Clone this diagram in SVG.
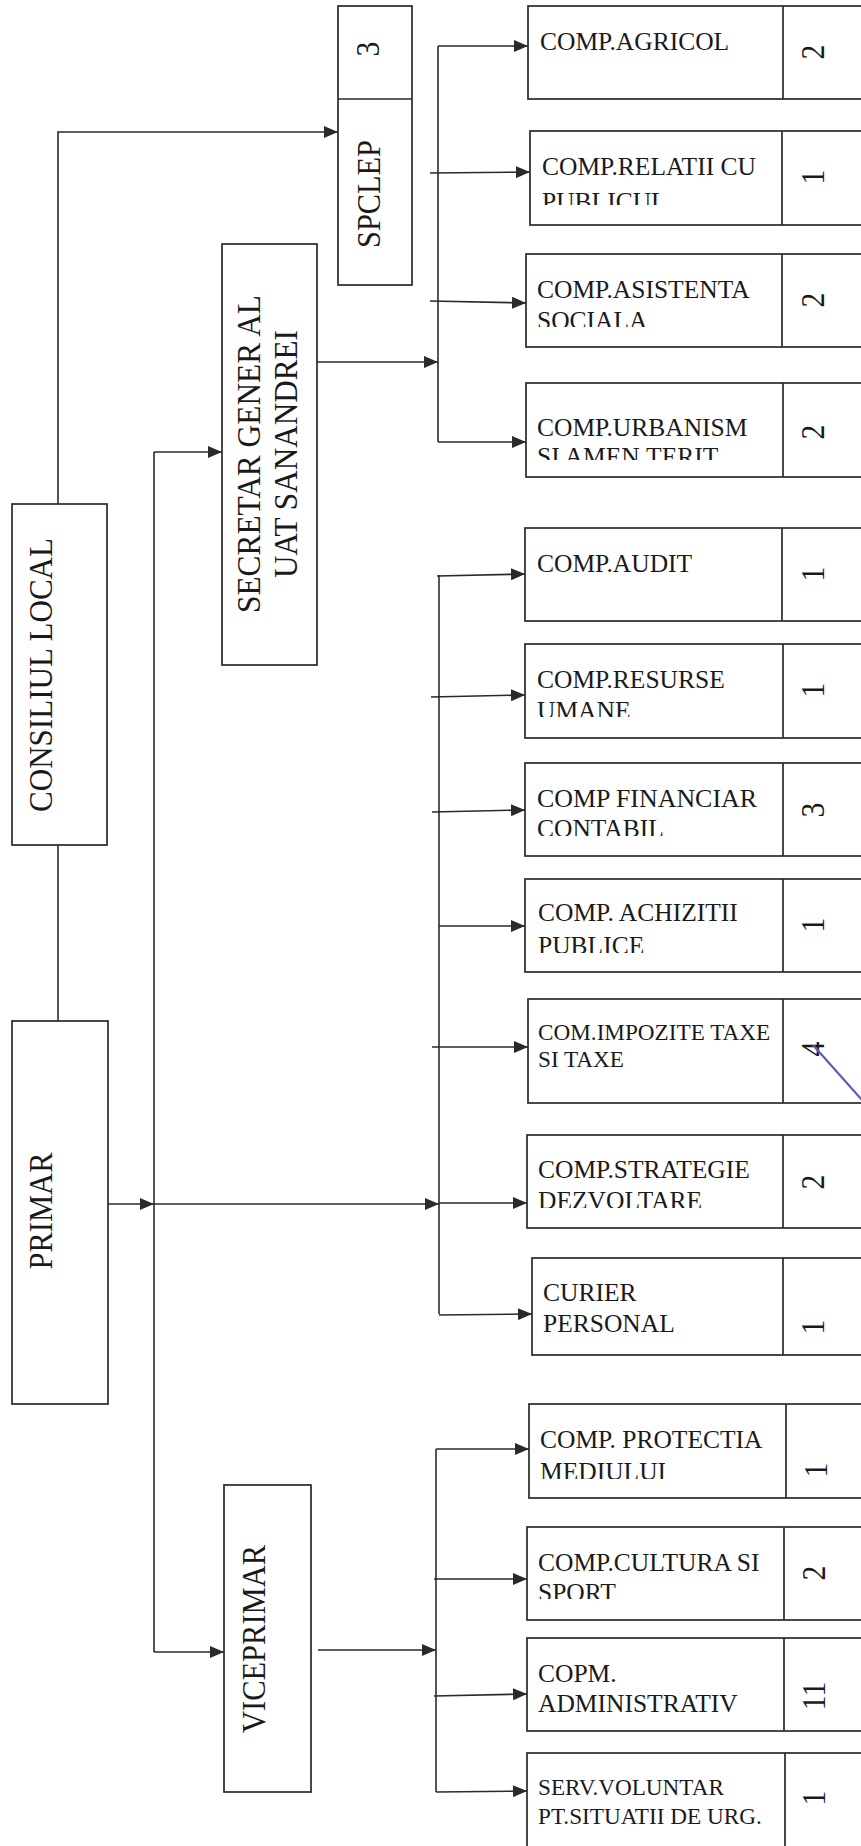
<svg xmlns="http://www.w3.org/2000/svg" width="861" height="1846" viewBox="0 0 861 1846">
<style>
.box{fill:#fff;stroke:#2a2a2a;stroke-width:1.7}
.div{stroke:#2a2a2a;stroke-width:1.7}
.ln{stroke:#2a2a2a;stroke-width:1.6;fill:none}
.arr{stroke:#2a2a2a;stroke-width:1.6;fill:none;marker-end:url(#ah)}
.t{font-family:"Liberation Serif","Times New Roman",serif;font-size:25.5px;fill:#1a1a1a}
.ts{font-family:"Liberation Serif","Times New Roman",serif;font-size:23.2px;fill:#1a1a1a}
.big{font-family:"Liberation Serif","Times New Roman",serif;font-size:33px;fill:#1a1a1a;text-anchor:middle}
.num{font-family:"Liberation Serif","Times New Roman",serif;font-size:33px;fill:#1a1a1a;text-anchor:middle}
</style>
<defs>
<marker id="ah" markerUnits="userSpaceOnUse" markerWidth="15" markerHeight="12" refX="14" refY="6" orient="auto"><path d="M0,0 L14,6 L0,12 z" fill="#2a2a2a"/></marker>
<clipPath id="c-rel"><rect x="530" y="131" width="250" height="74"/></clipPath>
<clipPath id="c-asi"><rect x="526" y="254" width="250" height="73"/></clipPath>
<clipPath id="c-urb"><rect x="526" y="383" width="250" height="77"/></clipPath>
<clipPath id="c-res"><rect x="525" y="644" width="250" height="73"/></clipPath>
<clipPath id="c-fin"><rect x="525" y="763" width="250" height="73"/></clipPath>
<clipPath id="c-ach"><rect x="525" y="879" width="250" height="74"/></clipPath>
<clipPath id="c-str"><rect x="527" y="1135" width="250" height="73"/></clipPath>
<clipPath id="c-pro"><rect x="529" y="1404" width="250" height="75"/></clipPath>
<clipPath id="c-cul"><rect x="527" y="1527" width="250" height="72"/></clipPath>
<clipPath id="c-adm"><rect x="527" y="1638" width="250" height="74"/></clipPath>
</defs>
<rect width="861" height="1846" fill="#fff"/>

<g id="connectors">
<polyline class="ln" points="58,504 58,132 59,132"/>
<line class="arr" x1="58" y1="132" x2="338" y2="132"/>
<line class="ln" x1="58" y1="845" x2="58" y2="1021"/>
<line class="arr" x1="108" y1="1204" x2="154" y2="1204"/>
<line class="arr" x1="154" y1="1204" x2="439" y2="1204"/>
<line class="ln" x1="154" y1="452" x2="154" y2="1652"/>
<line class="arr" x1="154" y1="452" x2="222" y2="452"/>
<line class="arr" x1="154" y1="1652" x2="224" y2="1652"/>
<line class="arr" x1="317" y1="362" x2="438" y2="362"/>
<line class="arr" x1="318" y1="1650" x2="436" y2="1650"/>
<line class="ln" x1="438" y1="46" x2="438" y2="442"/>
<line class="arr" x1="438" y1="46" x2="528" y2="46"/>
<line class="arr" x1="430" y1="173" x2="530" y2="172"/>
<line class="arr" x1="430" y1="301" x2="526" y2="303"/>
<line class="arr" x1="438" y1="442" x2="526" y2="442"/>
<line class="ln" x1="439" y1="575" x2="439" y2="1314"/>
<line class="arr" x1="437" y1="576" x2="525" y2="574"/>
<line class="arr" x1="431" y1="697" x2="525" y2="695"/>
<line class="arr" x1="432" y1="812" x2="525" y2="810"/>
<line class="arr" x1="439" y1="926" x2="525" y2="926"/>
<line class="arr" x1="432" y1="1047" x2="528" y2="1047"/>
<line class="arr" x1="439" y1="1203" x2="527" y2="1203"/>
<line class="arr" x1="439" y1="1315" x2="532" y2="1314"/>
<line class="ln" x1="436" y1="1449" x2="436" y2="1792"/>
<line class="arr" x1="436" y1="1449" x2="529" y2="1449"/>
<line class="arr" x1="434" y1="1579" x2="527" y2="1579"/>
<line class="arr" x1="434" y1="1696" x2="527" y2="1694"/>
<line class="arr" x1="436" y1="1792" x2="527" y2="1791"/>
</g>

<g id="consiliul-local">
<rect class="box" x="12" y="504" width="95" height="341"/>
<text class="big" transform="translate(52,675) rotate(-90)" textLength="274" lengthAdjust="spacingAndGlyphs">CONSILIUL LOCAL</text>
</g>
<g id="primar">
<rect class="box" x="12" y="1021" width="96" height="383"/>
<text class="big" transform="translate(52,1211) rotate(-90)" textLength="117" lengthAdjust="spacingAndGlyphs">PRIMAR</text>
</g>
<g id="spclep">
<rect class="box" x="338" y="6" width="74" height="279"/>
<line class="div" x1="338" y1="99" x2="412" y2="99"/>
<text class="num" transform="translate(379,49) rotate(-90) scale(0.9,1)">3</text>
<text class="big" transform="translate(380,194) rotate(-90)" textLength="108" lengthAdjust="spacingAndGlyphs">SPCLEP</text>
</g>
<g id="secretar">
<rect class="box" x="222" y="244" width="95" height="421"/>
<text class="big" transform="translate(260,454) rotate(-90)" textLength="318" lengthAdjust="spacingAndGlyphs">SECRETAR GENER AL</text>
<text class="big" transform="translate(297,454) rotate(-90)" textLength="248" lengthAdjust="spacingAndGlyphs">UAT SANANDREI</text>
</g>
<g id="viceprimar">
<rect class="box" x="224" y="1485" width="87" height="307"/>
<text class="big" transform="translate(265,1639) rotate(-90)" textLength="188" lengthAdjust="spacingAndGlyphs">VICEPRIMAR</text>
</g>

<g id="comp-agricol">
<rect class="box" x="528" y="6" width="360" height="93"/>
<line class="div" x1="783" y1="6" x2="783" y2="99"/>
<text class="t" x="540" y="50">COMP.AGRICOL</text>
<text class="num" transform="translate(824,52) rotate(-90) scale(0.9,1)">2</text>
</g>
<g id="comp-relatii">
<rect class="box" x="530" y="131" width="360" height="94"/>
<line class="div" x1="782" y1="131" x2="782" y2="225"/>
<g clip-path="url(#c-rel)"><text class="t" x="542" y="175">COMP.RELATII CU</text><text class="t" x="542" y="210">PUBLICUL</text></g>
<text class="num" transform="translate(824,177) rotate(-90) scale(0.9,1)">1</text>
</g>
<g id="comp-asistenta">
<rect class="box" x="526" y="254" width="360" height="93"/>
<line class="div" x1="782" y1="254" x2="782" y2="347" stroke-width="2.4"/>
<text class="t" x="537" y="298">COMP.ASISTENTA</text>
<g clip-path="url(#c-asi)"><text class="t" x="537" y="329">SOCIALA</text></g>
<text class="num" transform="translate(824,300) rotate(-90) scale(0.9,1)">2</text>
</g>
<g id="comp-urbanism">
<rect class="box" x="526" y="383" width="360" height="94"/>
<line class="div" x1="783" y1="383" x2="783" y2="477"/>
<text class="t" x="537" y="436">COMP.URBANISM</text>
<g clip-path="url(#c-urb)"><text class="t" x="537" y="465">SI AMEN.TERIT</text></g>
<text class="num" transform="translate(824,432) rotate(-90) scale(0.9,1)">2</text>
</g>
<g id="comp-audit">
<rect class="box" x="525" y="528" width="360" height="93"/>
<line class="div" x1="782" y1="528" x2="782" y2="621"/>
<text class="t" x="537" y="572">COMP.AUDIT</text>
<text class="num" transform="translate(824,574) rotate(-90) scale(0.9,1)">1</text>
</g>
<g id="comp-resurse">
<rect class="box" x="525" y="644" width="360" height="94"/>
<line class="div" x1="783" y1="644" x2="783" y2="738"/>
<g clip-path="url(#c-res)"><text class="t" x="537" y="688">COMP.RESURSE</text><text class="t" x="537" y="719">UMANE</text></g>
<text class="num" transform="translate(824,690) rotate(-90) scale(0.9,1)">1</text>
</g>
<g id="comp-financiar">
<rect class="box" x="525" y="763" width="360" height="93"/>
<line class="div" x1="783" y1="763" x2="783" y2="856"/>
<g clip-path="url(#c-fin)"><text class="t" x="537" y="807" textLength="220" lengthAdjust="spacingAndGlyphs">COMP FINANCIAR</text><text class="t" x="537" y="837">CONTABIL</text></g>
<text class="num" transform="translate(824,810) rotate(-90) scale(0.9,1)">3</text>
</g>
<g id="comp-achizitii">
<rect class="box" x="525" y="879" width="360" height="93"/>
<line class="div" x1="783" y1="879" x2="783" y2="972"/>
<g clip-path="url(#c-ach)"><text class="t" x="538" y="921">COMP. ACHIZITII</text><text class="t" x="538" y="954">PUBLICE</text></g>
<text class="num" transform="translate(824,925) rotate(-90) scale(0.9,1)">1</text>
</g>
<g id="com-impozite">
<rect class="box" x="528" y="999" width="360" height="104"/>
<line class="div" x1="783" y1="999" x2="783" y2="1103"/>
<text class="ts" x="538" y="1040">COM.IMPOZITE TAXE</text>
<text class="ts" x="538" y="1067">SI TAXE</text>
<text class="num" transform="translate(824,1049) rotate(-90) scale(0.9,1)">4</text>
<line x1="813" y1="1045" x2="862" y2="1100" stroke="#5a5ac0" stroke-width="2.2"/>
</g>
<g id="comp-strategie">
<rect class="box" x="527" y="1135" width="360" height="93"/>
<line class="div" x1="783" y1="1135" x2="783" y2="1228"/>
<g clip-path="url(#c-str)"><text class="t" x="538" y="1178">COMP.STRATEGIE</text><text class="t" x="538" y="1209">DEZVOLTARE</text></g>
<text class="num" transform="translate(824,1182) rotate(-90) scale(0.9,1)">2</text>
</g>
<g id="curier-personal">
<rect class="box" x="532" y="1258" width="360" height="97"/>
<line class="div" x1="783" y1="1258" x2="783" y2="1355"/>
<text class="t" x="543" y="1301">CURIER</text>
<text class="t" x="543" y="1332">PERSONAL</text>
<text class="num" transform="translate(824,1327) rotate(-90) scale(0.9,1)">1</text>
</g>
<g id="comp-protectia">
<rect class="box" x="529" y="1404" width="360" height="94"/>
<line class="div" x1="786" y1="1404" x2="786" y2="1498"/>
<g clip-path="url(#c-pro)"><text class="t" x="540" y="1448">COMP. PROTECTIA</text><text class="t" x="540" y="1480">MEDIULUI</text></g>
<text class="num" transform="translate(827,1470) rotate(-90) scale(0.9,1)">1</text>
</g>
<g id="comp-cultura">
<rect class="box" x="527" y="1527" width="360" height="93"/>
<line class="div" x1="784" y1="1527" x2="784" y2="1620"/>
<g clip-path="url(#c-cul)"><text class="t" x="538" y="1571">COMP.CULTURA SI</text><text class="t" x="538" y="1601">SPORT</text></g>
<text class="num" transform="translate(825,1573) rotate(-90) scale(0.9,1)">2</text>
</g>
<g id="copm-administrativ">
<rect class="box" x="527" y="1638" width="360" height="93"/>
<line class="div" x1="784" y1="1638" x2="784" y2="1731"/>
<g clip-path="url(#c-adm)"><text class="t" x="538" y="1682">COPM.</text><text class="t" x="538" y="1712">ADMINISTRATIV</text></g>
<text class="num" transform="translate(825,1696) rotate(-90) scale(0.9,1)">11</text>
</g>
<g id="serv-voluntar">
<rect class="box" x="527" y="1753" width="360" height="100"/>
<line class="div" x1="785" y1="1753" x2="785" y2="1846"/>
<text class="ts" x="538" y="1795">SERV.VOLUNTAR</text>
<text class="ts" x="538" y="1824">PT.SITUATII DE URG.</text>
<text class="num" transform="translate(825,1798) rotate(-90) scale(0.9,1)">1</text>
</g>
</svg>
